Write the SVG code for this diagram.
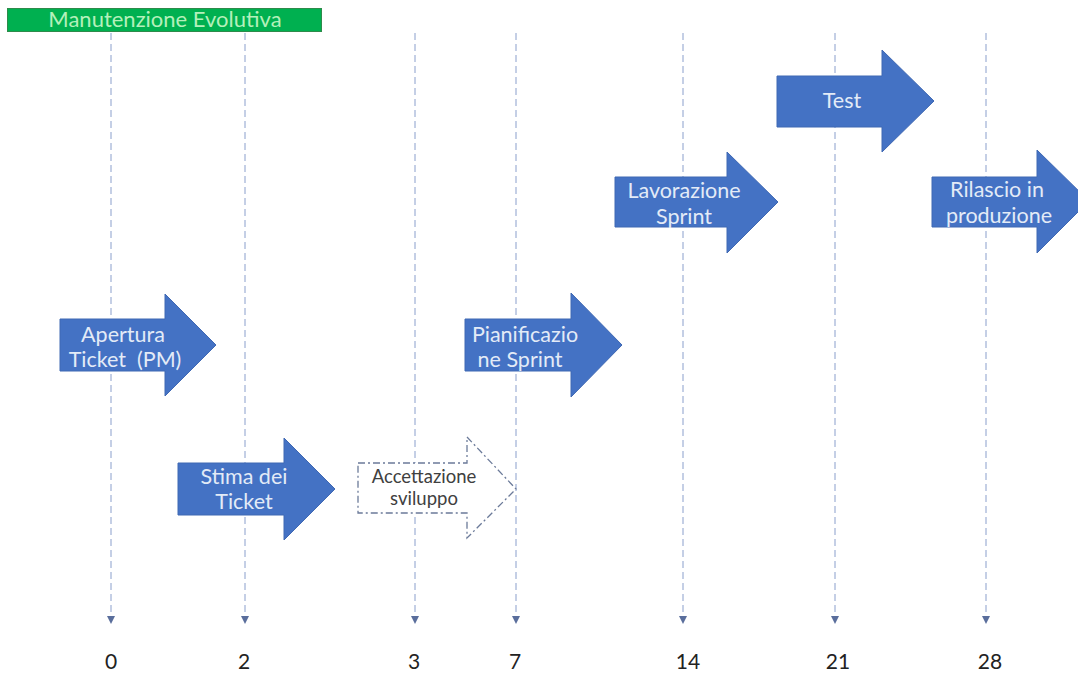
<svg xmlns="http://www.w3.org/2000/svg" width="1078" height="675" viewBox="0 0 1078 675">
<style>
.arr{fill:#4472c4;stroke:#3f68b3;stroke-width:1}
.lbl{font-family:Lato,"Liberation Sans",sans-serif;font-size:21.5px;fill:#e3ebf7;text-anchor:middle}
.dlbl{font-family:Lato,"Liberation Sans",sans-serif;font-size:18.5px;fill:#404040;text-anchor:middle}
.num{font-family:Lato,"Liberation Sans",sans-serif;font-size:21px;fill:#222;text-anchor:middle}
.tl{stroke:#8a9fcc;stroke-width:1;stroke-dasharray:7,4;fill:none}
</style>
<rect width="1078" height="675" fill="#ffffff"/>
<g id="header">
<rect x="7.5" y="8.5" width="314" height="23" fill="#00b050" stroke="#2e8b4a" stroke-width="1"/>
<text x="165" y="27" font-family="Lato,'Liberation Sans',sans-serif" font-size="22" fill="#b4f0bb" text-anchor="middle">Manutenzione Evolutiva</text>
</g>
<g id="connectors">
<line class="tl" x1="111" y1="33" x2="111" y2="616"/>
<line class="tl" x1="245" y1="33" x2="245" y2="616"/>
<line class="tl" x1="415" y1="33" x2="415" y2="616"/>
<line class="tl" x1="516" y1="33" x2="516" y2="616"/>
<line class="tl" x1="683" y1="33" x2="683" y2="616"/>
<line class="tl" x1="835" y1="33" x2="835" y2="616"/>
<line class="tl" x1="986" y1="33" x2="986" y2="616"/>
<g fill="#5a6e9c">
<path d="M107,616 L115,616 L111,624 Z"/>
<path d="M241,616 L249,616 L245,624 Z"/>
<path d="M411,616 L419,616 L415,624 Z"/>
<path d="M512,616 L520,616 L516,624 Z"/>
<path d="M679,616 L687,616 L683,624 Z"/>
<path d="M831,616 L839,616 L835,624 Z"/>
<path d="M982,616 L990,616 L986,624 Z"/>
</g>
</g>
<g id="axis">
<text class="num" x="111" y="669">0</text>
<text class="num" x="244" y="669">2</text>
<text class="num" x="414" y="669">3</text>
<text class="num" x="515" y="669">7</text>
<text class="num" x="688" y="669">14</text>
<text class="num" x="838" y="669">21</text>
<text class="num" x="990" y="669">28</text>
</g>
<g id="apertura">
<path class="arr" d="M60,319 L165,319 L165,294 L216,345 L165,396 L165,371 L60,371 Z"/>
<text class="lbl" x="123" y="342">Apertura</text>
<text class="lbl" x="125" y="367" xml:space="preserve">Ticket  (PM)</text>
</g>
<g id="stima">
<path class="arr" d="M178,463 L284,463 L284,438 L335,489 L284,540 L284,515 L178,515 Z"/>
<text class="lbl" x="244" y="484">Stima dei</text>
<text class="lbl" x="244" y="509">Ticket</text>
</g>
<g id="accettazione">
<path d="M358,463 L467,463 L467,437 L516,489 L467,538 L467,513 L358,513 Z" fill="#ffffff" stroke="#6b7a99" stroke-width="1.3" stroke-dasharray="7,3,2,3"/>
<text class="dlbl" x="424" y="483">Accettazione</text>
<text class="dlbl" x="424" y="505">sviluppo</text>
</g>
<g id="pianificazione">
<path class="arr" d="M465,319 L571,319 L571,293 L622,345 L571,397 L571,371 L465,371 Z"/>
<text class="lbl" x="525" y="342">Pianificazio</text>
<text class="lbl" x="520" y="367">ne Sprint</text>
</g>
<g id="lavorazione">
<path class="arr" d="M615,177 L727,177 L727,152 L778,202 L727,253 L727,227 L615,227 Z"/>
<text class="lbl" x="684" y="198">Lavorazione</text>
<text class="lbl" x="684" y="224">Sprint</text>
</g>
<g id="test">
<path class="arr" d="M777,76 L882,76 L882,50 L934,101 L882,152 L882,127 L777,127 Z"/>
<text class="lbl" x="842" y="108">Test</text>
</g>
<g id="rilascio">
<path class="arr" d="M932,177 L1037,177 L1037,150 L1089,201 L1037,253 L1037,227 L932,227 Z"/>
<text class="lbl" x="997" y="197">Rilascio in</text>
<text class="lbl" x="999" y="223">produzione</text>
</g>
</svg>
